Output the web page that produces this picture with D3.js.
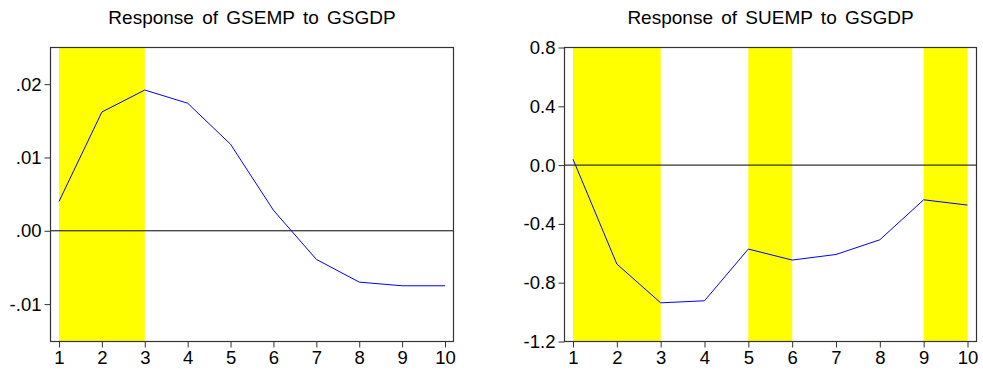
<!DOCTYPE html>
<html>
<head>
<meta charset="utf-8">
<script src="https://cdn.jsdelivr.net/npm/d3@7"></script>
<style>
  body { margin: 0; background: #fff; }
  text { font-family: Arial, "Liberation Sans", sans-serif; fill: #000; }
</style>
</head>
<body>
<svg id="chart" width="983" height="371"></svg>
<script>
// horizon steps
const periods = [1, 2, 3, 4, 5, 6, 7, 8, 9, 10]

// response of GSEMP to GSGDP
const gsempResp = [0.0040, 0.0162, 0.0192, 0.0174, 0.0118, 0.0028, -0.0039, -0.0070, -0.0075, -0.0075]
const gsempTicks = [-0.01, 0.00, 0.01, 0.02]
const gsempTickLabels = ["-.01", ".00", ".01", ".02"]
const gsempShade = [[1, 3]]

// response of SUEMP to GSGDP
const suempResp = [0.04, -0.673, -0.937, -0.923, -0.571, -0.646, -0.608, -0.508, -0.236, -0.272]
const suempTicks = [-1.2, -0.8, -0.4, 0.0, 0.4, 0.8]
const suempTickLabels = ["-1.2", "-0.8", "-0.4", "0.0", "0.4", "0.8"]
const suempShade = [[1, 3], [5, 6], [9, 10]]

const svg = d3.select("#chart")

function panel(opt) {
    const g = svg.append("g")
    const x = d3.scaleLinear().domain([1, 10]).range([opt.x0, opt.x1])
    const y = d3.scaleLinear().domain(opt.domain).range([opt.bottom, opt.top])

    // shaded periods
    g.selectAll("rect.shade")
        .data(opt.shade)
        .enter()
        .append("rect")
        .attr("x", d => x(d[0]))
        .attr("width", d => x(d[1]) - x(d[0]))
        .attr("y", opt.top)
        .attr("height", opt.bottom - opt.top)
        .attr("fill", "#ffff00")

    // zero line
    g.append("line")
        .attr("x1", opt.left).attr("x2", opt.right)
        .attr("y1", y(0)).attr("y2", y(0))
        .attr("stroke", "#000").attr("stroke-width", 1)

    const line = d3.line()
        .x((d, i) => x(periods[i]))
        .y(d => y(d))

    g.append("path")
        .datum(opt.values)
        .attr("d", line)
        .attr("fill", "none")
        .attr("stroke", "#0000ff")
        .attr("stroke-width", 1)

    // frame
    g.append("rect")
        .attr("x", opt.left).attr("y", opt.top)
        .attr("width", opt.right - opt.left)
        .attr("height", opt.bottom - opt.top)
        .attr("fill", "none")
        .attr("stroke", "#333")
        .attr("stroke-width", 1.2)

    const yAxis = d3.axisLeft(y)
        .tickValues(opt.ticks)
        .tickFormat((d, i) => opt.tickLabels[i])
        .tickSize(6)
        .tickPadding(3)
    g.append("g")
        .attr("transform", "translate(" + opt.left + ",0)")
        .call(yAxis)
        .call(a => a.select(".domain").remove())
        .call(a => a.selectAll("text").style("font-size", "18.5px").attr("fill", "#000"))
        .call(a => a.selectAll("line").attr("stroke", "#333"))

    const xAxis = d3.axisBottom(x)
        .tickValues(periods)
        .tickFormat(d3.format("d"))
        .tickSize(6)
        .tickPadding(3)
    g.append("g")
        .attr("transform", "translate(0," + opt.bottom + ")")
        .call(xAxis)
        .call(a => a.select(".domain").remove())
        .call(a => a.selectAll("text").style("font-size", "18.5px").attr("fill", "#000"))
        .call(a => a.selectAll("line").attr("stroke", "#333"))

    g.append("text")
        .attr("x", (opt.left + opt.right) / 2)
        .attr("y", 24)
        .attr("text-anchor", "middle")
        .style("font-size", "19px")
        .style("word-spacing", "3px")
        .text(opt.title)
}

panel({
    title: "Response of GSEMP to GSGDP",
    left: 50.5, right: 453.5, top: 47.5, bottom: 341.5,
    x0: 59, x1: 445,
    domain: [-0.0151, 0.0250],
    values: gsempResp, ticks: gsempTicks, tickLabels: gsempTickLabels,
    shade: gsempShade
})

panel({
    title: "Response of SUEMP to GSGDP",
    left: 564.5, right: 976.5, top: 47.5, bottom: 341.5,
    x0: 573, x1: 967.5,
    domain: [-1.2, 0.8],
    values: suempResp, ticks: suempTicks, tickLabels: suempTickLabels,
    shade: suempShade
})
</script>
</body>
</html>
